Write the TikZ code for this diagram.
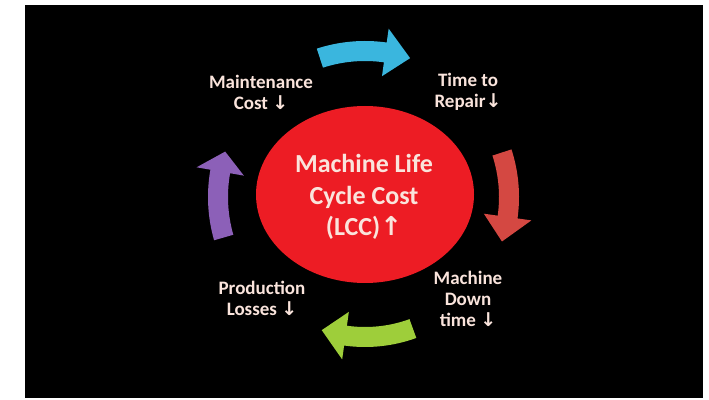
\documentclass[tikz,border=0pt]{standalone}
\usepackage{fontspec}
\setmainfont{Carlito}
\newfontfamily\arrowfont{DejaVu Sans}
\usepackage{tikz}
\usetikzlibrary{calc,shapes.geometric}
\usepackage{xcolor}
\definecolor{lccred}{RGB}{237,28,36}
\definecolor{repairblue}{RGB}{58,182,222}
\definecolor{downred}{RGB}{212,72,66}
\definecolor{lossgreen}{RGB}{158,206,58}
\definecolor{costpurple}{RGB}{140,96,184}
\definecolor{labeltext}{RGB}{250,228,220}
\newcommand{\dn}{{\arrowfont\char"2193}}
\newcommand{\up}{{\arrowfont\char"2191}}
\tikzset{
  cyclelabel/.style={text=labeltext, align=center, font=\bfseries\fontsize{19}{21}\selectfont},
  lcclabel/.style={text=labeltext, align=center, font=\bfseries\fontsize{26}{31.5}\selectfont}
}

\begin{document}
\begin{tikzpicture}[x=1pt, y=1pt]
\useasboundingbox (0,0) rectangle (709,399);
\fill[black] (25,1) rectangle (703,394);
\coordinate (hub) at (365,202);
% centre
\node[ellipse, fill=lccred, minimum width=218pt, minimum height=177pt, inner sep=0pt] (lcc) at (365,204.5) {};
\node[lcclabel] (lcctext) at (364,202) {Machine Life\\Cycle Cost\\(LCC)\up};
% arrows round the hub, clockwise
\fill[repairblue] ($(hub)+(108:156)$) arc (108:82:156) -- ($(hub)+(82:170)$) -- ($(hub)+(72:146)$) -- ($(hub)+(82:122)$) -- ($(hub)+(82:136)$) arc (82:108:136) -- cycle;
\fill[downred] ($(hub)+(18:154)$) arc (18:-8:154) -- ($(hub)+(-8:168)$) -- ($(hub)+(-18:144)$) -- ($(hub)+(-8:120)$) -- ($(hub)+(-8:134)$) arc (-8:18:134) -- cycle;
\fill[lossgreen] ($(hub)+(-70:150)$) arc (-70:-98:150) -- ($(hub)+(-98:164)$) -- ($(hub)+(-108:140)$) -- ($(hub)+(-98:116)$) -- ($(hub)+(-98:130)$) arc (-98:-70:130) -- cycle;
\fill[costpurple] ($(hub)+(196:157)$) arc (196:170:157) -- ($(hub)+(170:171)$) -- ($(hub)+(162:147)$) -- ($(hub)+(170:123)$) -- ($(hub)+(170:137)$) arc (170:196:137) -- cycle;
% labels
\node[cyclelabel] (maint) at (261,307) {Maintenance\\Cost \dn};
\node[cyclelabel] (repair) at (468,307) {Time to\\Repair\dn};
\node[cyclelabel] (down) at (468,100) {Machine\\Down\\time \dn};
\node[cyclelabel] (losses) at (262,101) {Production\\Losses \dn};
\end{tikzpicture}
\end{document}
